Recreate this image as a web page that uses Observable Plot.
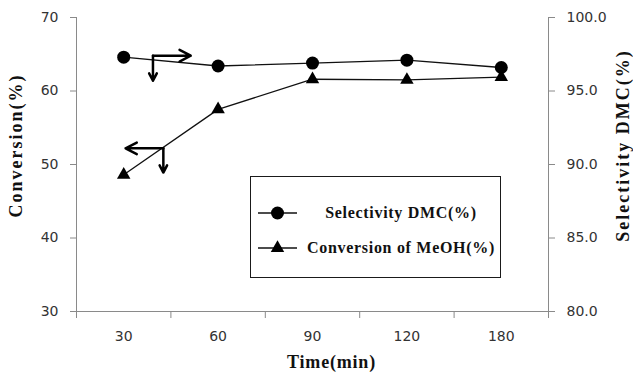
<!DOCTYPE html>
<html><head><meta charset="utf-8">
<script src="https://cdn.jsdelivr.net/npm/d3@7"></script>
<script src="https://cdn.jsdelivr.net/npm/@observablehq/plot@0.6"></script>
<style>
body{margin:0;background:#fff;}
#wrap{position:relative;width:633px;height:376px;overflow:hidden;}
#wrap svg.plot{display:block;}
#legend{position:absolute;left:250px;top:176px;width:251px;height:102px;box-sizing:border-box;border:1.5px solid #1a1a1a;background:#fff;}
#legend svg{position:absolute;left:0;top:0;}
#legend .lt{position:absolute;left:150px;transform:translate(-50%,-50%);white-space:nowrap;font-family:"Liberation Serif","Times New Roman",serif;font-weight:bold;font-size:16px;letter-spacing:0.7px;color:#111;}
</style>
</head><body>
<div id="wrap"></div>
<script>
// ---- data ----
const times = ["30", "60", "90", "120", "180"];
const selectivity = [97.3, 96.7, 96.9, 97.1, 96.6];   // right axis, %
const conversion = [48.6, 57.5, 61.6, 61.5, 61.9];     // left axis, %
const convTicks = [30, 40, 50, 60, 70];
const selTicks = [80, 85, 90, 95, 100];
const seriesNames = ["Selectivity DMC(%)", "Conversion of MeOH(%)"];
const titles = {y: "Conversion(%)", y2: "Selectivity DMC(%)", x: "Time(min)"};
// annotation arrows (x in category index units, y in conversion units)
const arrowX1 = [0.31, 0.31, 0.42, 0.42];
const arrowY1 = [64.8, 64.8, 52.2, 52.2];
const arrowX2 = [0.71, 0.31, 0.02, 0.42];
const arrowY2 = [64.8, 61.4, 52.2, 48.9];

// map selectivity (80..100) onto the conversion scale (30..70)
const selToConv = s => 30 + (s - 80) * 2;
const convToSel = c => 80 + (c - 30) / 2;

const idx = times.map((d, i) => i);
const boundaries = idx.map(i => i - 0.5).concat([times.length - 0.5]);
const selData = idx.map(i => ({x: i, y: selToConv(selectivity[i])}));
const convData = idx.map(i => ({x: i, y: conversion[i]}));
const arrows = arrowX1.map((d, i) => ({x1: d, y1: arrowY1[i], x2: arrowX2[i], y2: arrowY2[i]}));

const axisGray = "#8a8a8a";
const tickFont = {fontFamily: "DejaVu Sans, sans-serif", fontSize: 14};
const titleFont = {fontFamily: "Liberation Serif, serif", fontWeight: "bold", fontSize: 18, fill: "#111", textAnchor: "middle", lineAnchor: "middle"};

const chart = Plot.plot({
  width: 633, height: 376,
  marginLeft: 76, marginRight: 85, marginTop: 17, marginBottom: 65,
  style: {fontFamily: "DejaVu Sans, sans-serif", fontSize: "14px", background: "#fff", overflow: "visible"},
  x: {type: "linear", domain: [-0.5, times.length - 0.5], axis: null},
  y: {domain: [30, 70], axis: null},
  marks: [
    Plot.ruleY([30], {stroke: axisGray}),
    Plot.ruleX([-0.5, times.length - 0.5], {stroke: axisGray}),
    Plot.axisY(convTicks, {anchor: "left", tickSize: 6, tickPadding: 12, stroke: axisGray, fill: "#333", label: null, ...tickFont}),
    Plot.axisY(selTicks.map(selToConv), {anchor: "right", tickSize: 6, tickPadding: 12, stroke: axisGray, fill: "#333", label: null, tickFormat: d => convToSel(d).toFixed(1), ...tickFont}),
    Plot.axisX(boundaries, {anchor: "bottom", tickSize: 7, tickFormat: () => "", stroke: axisGray, label: null}),
    Plot.axisX(idx, {anchor: "bottom", tickSize: 0, tickPadding: 20, tickFormat: i => times[i], fill: "#333", label: null, ...tickFont}),
    Plot.line(selData, {x: "x", y: "y", stroke: "#111", strokeWidth: 1.3}),
    Plot.line(convData, {x: "x", y: "y", stroke: "#111", strokeWidth: 1.3}),
    Plot.dot(selData, {x: "x", y: "y", r: 6.5, fill: "#000", stroke: "none", symbol: "circle"}),
    Plot.dot(convData, {x: "x", y: "y", r: 5, fill: "#000", stroke: "none", symbol: "triangle"}),
    Plot.arrow(arrows, {x1: "x1", y1: "y1", x2: "x2", y2: "y2", stroke: "#000", strokeWidth: 2.5, headLength: 13, headAngle: 55}),
    Plot.text([titles.y], {frameAnchor: "left", dx: -60, dy: -19, rotate: -90, ...titleFont}),
    Plot.text([titles.y2], {frameAnchor: "right", dx: 75, dy: -19, rotate: -90, ...titleFont}),
    Plot.text([titles.x], {frameAnchor: "bottom", dx: 19, dy: 51, ...titleFont})
  ]
});
const wrap = document.getElementById("wrap");
wrap.appendChild(chart);

// letter spacing for the axis titles
d3.select(chart).selectAll("text")
  .filter(function() { return this.textContent === titles.y || this.textContent === titles.y2; })
  .style("letter-spacing", "2px");
d3.select(chart).selectAll("text")
  .filter(function() { return this.textContent === titles.x; })
  .style("letter-spacing", "0.8px");

// legend (inside the plot area)
const leg = document.createElement("div");
leg.id = "legend";
leg.innerHTML = `<svg width="251" height="102">
  <line x1="7" x2="46" y1="36" y2="36" stroke="#111" stroke-width="1.3"/>
  <circle cx="26.5" cy="36" r="6.5" fill="#000"/>
  <line x1="7" x2="46" y1="71" y2="71" stroke="#111" stroke-width="1.3"/>
  <path d="${d3.symbol(d3.symbolTriangle, Math.PI * 25)()}" transform="translate(26.5,71)" fill="#000"/>
</svg>
<div class="lt" style="top:36px">${seriesNames[0]}</div>
<div class="lt" style="top:71px">${seriesNames[1]}</div>`;
wrap.appendChild(leg);
</script>
</body></html>
